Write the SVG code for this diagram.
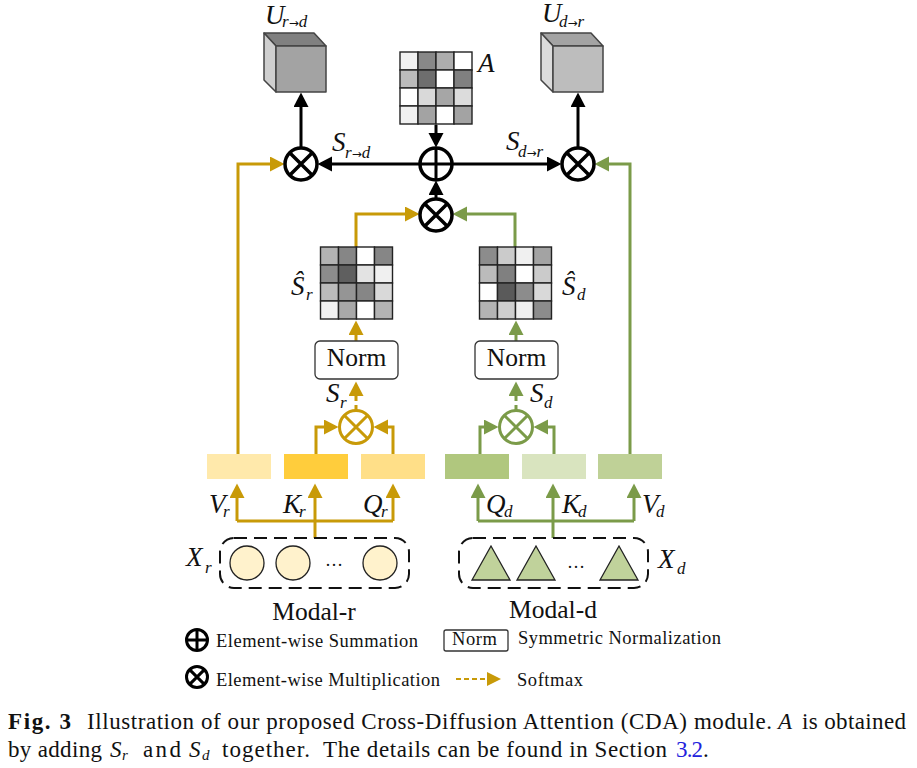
<svg xmlns="http://www.w3.org/2000/svg" width="917" height="768" viewBox="0 0 917 768">
<style>
text{font-family:"Liberation Serif","Times New Roman",serif;fill:#111}
.m{font-style:italic;font-size:27px}
.s{font-style:italic;font-size:17px}
.ar{font-family:"DejaVu Sans",sans-serif;font-style:normal;font-size:12px}
.n{font-size:25.500px;text-anchor:middle}
.l{font-size:18.500px}
.c{font-size:23px}
.ci{font-size:23px;font-style:italic}
.cs{font-size:15px;font-style:italic}
.k{fill:none;stroke:#000;stroke-width:3}
.g{fill:none;stroke:#c89a08;stroke-width:3}
.v{fill:none;stroke:#7b9b49;stroke-width:3}
.op{fill:#fff;stroke:#000;stroke-width:3.500}
.og{fill:#fff;stroke:#c89a08;stroke-width:3}
.ov{fill:#fff;stroke:#7b9b49;stroke-width:3}
.cell{stroke:#222;stroke-width:1.400}
.norm{fill:#fff;stroke:#333;stroke-width:1.300}
.dash{fill:none;stroke:#111;stroke-width:2;stroke-dasharray:13 7}
.cube{stroke:#444;stroke-width:1.500;stroke-linejoin:round}
</style>
<defs>
<marker id="ak" markerUnits="userSpaceOnUse" markerWidth="16" markerHeight="16" refX="11" refY="7.500" orient="auto"><path d="M0 0L14.500 7.500L0 15Z" fill="#000"/></marker>
<marker id="ag" markerUnits="userSpaceOnUse" markerWidth="16" markerHeight="16" refX="11" refY="7.500" orient="auto"><path d="M0 0L14.500 7.500L0 15Z" fill="#c89a08"/></marker>
<marker id="av" markerUnits="userSpaceOnUse" markerWidth="16" markerHeight="16" refX="11" refY="7.500" orient="auto"><path d="M0 0L14.500 7.500L0 15Z" fill="#7b9b49"/></marker>
<path id="x16" d="M-11.300 -11.300L11.300 11.300M-11.300 11.300L11.300 -11.300" fill="none"/>
<path id="p16" d="M-16 0H16M0 -16V16" fill="none"/>
</defs>

<g id="connectors">
<path class="k" marker-end="url(#ak)" d="M436 125V144"/>
<path class="k" marker-end="url(#ak)" d="M420 164H321"/>
<path class="k" marker-end="url(#ak)" d="M452 164H558"/>
<path class="k" marker-end="url(#ak)" d="M436 199V184"/>
<path class="k" marker-end="url(#ak)" d="M301 148V96"/>
<path class="k" marker-end="url(#ak)" d="M578 148V96"/>
<path class="g" marker-end="url(#ag)" d="M238 454V164H281"/>
<path class="g" marker-end="url(#ag)" d="M356 247V214H416"/>
<path class="v" marker-end="url(#av)" d="M515 247V214H456"/>
<path class="v" marker-end="url(#av)" d="M630 454V164H598"/>
<path class="g" marker-end="url(#ag)" d="M356 341V324"/>
<path class="v" marker-end="url(#av)" d="M516 341V324"/>
<path class="g" stroke-dasharray="5 4" marker-end="url(#ag)" d="M356 410V385"/>
<path class="v" stroke-dasharray="5 4" marker-end="url(#av)" d="M516 410V385"/>
<path class="g" marker-end="url(#ag)" d="M316 454V427H335"/>
<path class="g" marker-end="url(#ag)" d="M393 454V427H377"/>
<path class="v" marker-end="url(#av)" d="M480 454V427H495"/>
<path class="v" marker-end="url(#av)" d="M554 454V427H537"/>
<path class="g" marker-end="url(#ag)" d="M237 521V487"/>
<path class="g" marker-end="url(#ag)" d="M393 521V487"/>
<path class="g" d="M237 521H393"/>
<path class="g" marker-end="url(#ag)" d="M315 538V487"/>
<path class="v" marker-end="url(#av)" d="M478 521V487"/>
<path class="v" marker-end="url(#av)" d="M634 521V487"/>
<path class="v" d="M478 521H634"/>
<path class="v" marker-end="url(#av)" d="M553 538V487"/>
</g>

<g id="cube-u-rd">
<path class="cube" fill="#808080" d="M264 33H314L326 46H276Z"/>
<path class="cube" fill="#cfcfcf" d="M264 33L276 46V92L264 80Z"/>
<rect class="cube" fill="#a3a3a3" x="276" y="46" width="50" height="46"/>
<text class="m" x="265" y="24">U</text><text class="s" x="282" y="27">r<tspan class="ar">→</tspan>d</text>
</g>
<g id="cube-u-dr">
<path class="cube" fill="#a3a3a3" d="M541 33H591L603 46H553Z"/>
<path class="cube" fill="#dcdcdc" d="M541 33L553 46V92L541 80Z"/>
<rect class="cube" fill="#bdbdbd" x="553" y="46" width="50" height="46"/>
<text class="m" x="542" y="22">U</text><text class="s" x="559" y="27">d<tspan class="ar">→</tspan>r</text>
</g>

<g id="matrix-a">
<rect class="cell" x="400" y="52" width="18" height="18" fill="#f0f0f0"/><rect class="cell" x="418" y="52" width="18" height="18" fill="#888"/><rect class="cell" x="436" y="52" width="18" height="18" fill="#adadad"/><rect class="cell" x="454" y="52" width="18" height="18" fill="#fff"/>
<rect class="cell" x="400" y="70" width="18" height="18" fill="#bbb"/><rect class="cell" x="418" y="70" width="18" height="18" fill="#6e6e6e"/><rect class="cell" x="436" y="70" width="18" height="18" fill="#fff"/><rect class="cell" x="454" y="70" width="18" height="18" fill="#808080"/>
<rect class="cell" x="400" y="88" width="18" height="18" fill="#fff"/><rect class="cell" x="418" y="88" width="18" height="18" fill="#d9d9d9"/><rect class="cell" x="436" y="88" width="18" height="18" fill="#a6a6a6"/><rect class="cell" x="454" y="88" width="18" height="18" fill="#dcdcdc"/>
<rect class="cell" x="400" y="106" width="18" height="18" fill="#f0f0f0"/><rect class="cell" x="418" y="106" width="18" height="18" fill="#a3a3a3"/><rect class="cell" x="436" y="106" width="18" height="18" fill="#fff"/><rect class="cell" x="454" y="106" width="18" height="18" fill="#a3a3a3"/>
<text class="m" x="478" y="72">A</text>
</g>

<g id="matrix-sr">
<rect class="cell" x="320.500" y="247" width="18" height="18" fill="#b3b3b3"/><rect class="cell" x="338.500" y="247" width="18" height="18" fill="#868686"/><rect class="cell" x="356.500" y="247" width="18" height="18" fill="#fff"/><rect class="cell" x="374.500" y="247" width="18" height="18" fill="#868686"/>
<rect class="cell" x="320.500" y="265" width="18" height="18" fill="#8c8c8c"/><rect class="cell" x="338.500" y="265" width="18" height="18" fill="#5f5f5f"/><rect class="cell" x="356.500" y="265" width="18" height="18" fill="#e3e3e3"/><rect class="cell" x="374.500" y="265" width="18" height="18" fill="#f0f0f0"/>
<rect class="cell" x="320.500" y="283" width="18" height="18" fill="#bbb"/><rect class="cell" x="338.500" y="283" width="18" height="18" fill="#959595"/><rect class="cell" x="356.500" y="283" width="18" height="18" fill="#868686"/><rect class="cell" x="374.500" y="283" width="18" height="18" fill="#d9d9d9"/>
<rect class="cell" x="320.500" y="301" width="18" height="18" fill="#f0f0f0"/><rect class="cell" x="338.500" y="301" width="18" height="18" fill="#a8a8a8"/><rect class="cell" x="356.500" y="301" width="18" height="18" fill="#fff"/><rect class="cell" x="374.500" y="301" width="18" height="18" fill="#b3b3b3"/>
<text class="m" x="291" y="295">Ŝ</text><text class="s" x="306" y="300">r</text>
</g>

<g id="matrix-sd">
<rect class="cell" x="479.500" y="247" width="18" height="18" fill="#8c8c8c"/><rect class="cell" x="497.500" y="247" width="18" height="18" fill="#cbcbcb"/><rect class="cell" x="515.500" y="247" width="18" height="18" fill="#f0f0f0"/><rect class="cell" x="533.500" y="247" width="18" height="18" fill="#a3a3a3"/>
<rect class="cell" x="479.500" y="265" width="18" height="18" fill="#bbb"/><rect class="cell" x="497.500" y="265" width="18" height="18" fill="#808080"/><rect class="cell" x="515.500" y="265" width="18" height="18" fill="#fff"/><rect class="cell" x="533.500" y="265" width="18" height="18" fill="#cbcbcb"/>
<rect class="cell" x="479.500" y="283" width="18" height="18" fill="#fff"/><rect class="cell" x="497.500" y="283" width="18" height="18" fill="#5a5a5a"/><rect class="cell" x="515.500" y="283" width="18" height="18" fill="#8c8c8c"/><rect class="cell" x="533.500" y="283" width="18" height="18" fill="#d9d9d9"/>
<rect class="cell" x="479.500" y="301" width="18" height="18" fill="#b3b3b3"/><rect class="cell" x="497.500" y="301" width="18" height="18" fill="#cfcfcf"/><rect class="cell" x="515.500" y="301" width="18" height="18" fill="#f0f0f0"/><rect class="cell" x="533.500" y="301" width="18" height="18" fill="#8c8c8c"/>
<text class="m" x="562" y="295">Ŝ</text><text class="s" x="577" y="300">d</text>
</g>

<g id="otimes-left" transform="translate(301 164)"><circle class="op" r="16"/><use href="#x16" stroke="#000" stroke-width="3.500"/></g>
<g id="oplus-center" transform="translate(436 164)"><circle class="op" r="16"/><use href="#p16" stroke="#000" stroke-width="3"/></g>
<g id="otimes-right" transform="translate(578 164)"><circle class="op" r="16"/><use href="#x16" stroke="#000" stroke-width="3.500"/></g>
<g id="otimes-mid" transform="translate(436 215)"><circle class="op" r="16"/><use href="#x16" stroke="#000" stroke-width="3.500"/></g>
<g id="otimes-r" transform="translate(356 427)"><circle class="og" r="16.500"/><use href="#x16" stroke="#c89a08" stroke-width="3"/></g>
<g id="otimes-d" transform="translate(516 427)"><circle class="ov" r="16.500"/><use href="#x16" stroke="#7b9b49" stroke-width="3"/></g>

<g id="label-s-rd"><text class="m" x="332" y="151">S</text><text class="s" x="345" y="158">r<tspan class="ar">→</tspan>d</text></g>
<g id="label-s-dr"><text class="m" x="506" y="150">S</text><text class="s" x="518" y="157">d<tspan class="ar">→</tspan>r</text></g>

<g id="norm-r"><rect class="norm" x="315" y="341" width="83" height="38" rx="5"/><text class="n" x="356.500" y="366">Norm</text></g>
<g id="norm-d"><rect class="norm" x="475" y="341" width="83" height="38" rx="5"/><text class="n" x="516.500" y="366">Norm</text></g>
<g id="label-sr"><text class="m" x="326" y="402">S</text><text class="s" x="340" y="408">r</text></g>
<g id="label-sd"><text class="m" x="530" y="402">S</text><text class="s" x="544" y="408">d</text></g>

<g id="bar-vr"><rect x="207" y="454" width="64" height="25" fill="#ffe9ab"/></g>
<g id="bar-kr"><rect x="284" y="454" width="64" height="25" fill="#ffcd3c"/></g>
<g id="bar-qr"><rect x="361" y="454" width="64" height="25" fill="#ffdf88"/></g>
<g id="bar-qd"><rect x="445" y="454" width="64" height="25" fill="#b0c77e"/></g>
<g id="bar-kd"><rect x="522" y="454" width="64" height="25" fill="#d9e4bf"/></g>
<g id="bar-vd"><rect x="598" y="454" width="64" height="25" fill="#bfd197"/></g>

<g id="label-vr"><text class="m" x="209" y="513">V</text><text class="s" x="223" y="517">r</text></g>
<g id="label-kr"><text class="m" x="283" y="513">K</text><text class="s" x="299" y="517">r</text></g>
<g id="label-qr"><text class="m" x="363" y="513">Q</text><text class="s" x="381" y="517">r</text></g>
<g id="label-qd"><text class="m" x="486" y="513">Q</text><text class="s" x="504" y="517">d</text></g>
<g id="label-kd"><text class="m" x="562" y="513">K</text><text class="s" x="578" y="517">d</text></g>
<g id="label-vd"><text class="m" x="642" y="513">V</text><text class="s" x="656" y="517">d</text></g>

<g id="modal-r">
<rect class="dash" x="220" y="538" width="189" height="50" rx="14"/>
<circle cx="247" cy="563" r="17" fill="#fff2cc" stroke="#222" stroke-width="1.300"/>
<circle cx="293" cy="563" r="17" fill="#fff2cc" stroke="#222" stroke-width="1.300"/>
<circle cx="380" cy="563" r="17" fill="#fff2cc" stroke="#222" stroke-width="1.300"/>
<text x="334" y="566" font-size="18" text-anchor="middle">…</text>
<text class="m" x="186" y="566">X</text><text class="s" x="205" y="573">r</text>
<text class="n" x="314" y="620">Modal-r</text>
</g>
<g id="modal-d">
<rect class="dash" x="459" y="538" width="189" height="50" rx="14"/>
<path d="M491 546L472 580H510Z" fill="#c0d29b" stroke="#222" stroke-width="1.300"/>
<path d="M536 546L517 580H555Z" fill="#c0d29b" stroke="#222" stroke-width="1.300"/>
<path d="M619 546L600 580H638Z" fill="#c0d29b" stroke="#222" stroke-width="1.300"/>
<text x="576" y="568" font-size="18" text-anchor="middle">…</text>
<text class="m" x="658" y="568">X</text><text class="s" x="677" y="574">d</text>
<text class="n" x="553" y="618">Modal-d</text>
</g>

<g id="legend">
<circle cx="197" cy="640" r="10.500" fill="#fff" stroke="#000" stroke-width="3"/><path d="M186.500 640H207.500M197 629.500V650.500" stroke="#000" stroke-width="3" fill="none"/>
<text class="l" x="216" y="647" textLength="202">Element-wise Summation</text>
<rect class="norm" x="444" y="630" width="64" height="21" rx="2"/>
<text class="l" x="452" y="645" textLength="45">Norm</text>
<text class="l" x="518" y="644" textLength="203">Symmetric Normalization</text>
<circle cx="197" cy="677" r="10.500" fill="#fff" stroke="#000" stroke-width="3"/><path d="M189.600 669.600L204.400 684.400M189.600 684.400L204.400 669.600" stroke="#000" stroke-width="3" fill="none"/>
<text class="l" x="216" y="686" textLength="224">Element-wise Multiplication</text>
<path d="M456 679H488" fill="none" stroke="#c89a08" stroke-width="2" stroke-dasharray="5 3"/>
<path d="M487 672L501 679L487 686Z" fill="#c89a08"/>
<text class="l" x="517" y="686" textLength="66">Softmax</text>
</g>

<g id="caption">
<text class="c" x="8" y="729" font-weight="bold" textLength="63">Fig. 3</text>
<text class="c" x="87" y="729" textLength="685">Illustration of our proposed Cross-Diffusion Attention (CDA) module.</text>
<text class="ci" x="778" y="729">A</text>
<text class="c" x="802" y="729" textLength="104">is obtained</text>
<text class="c" x="8" y="757" textLength="94">by adding</text>
<text class="ci" x="110" y="757">S</text><text class="cs" x="122" y="760">r</text>
<text class="c" x="143" y="757" textLength="38">and</text>
<text class="ci" x="189" y="757">S</text><text class="cs" x="202" y="760">d</text>
<text class="c" x="222" y="757" textLength="88">together.</text>
<text class="c" x="323" y="757" textLength="344">The details can be found in Section</text>
<text class="c" x="676" y="757" textLength="27" style="fill:#2222dd">3.2</text>
<text class="c" x="703" y="757">.</text>
</g>
</svg>
